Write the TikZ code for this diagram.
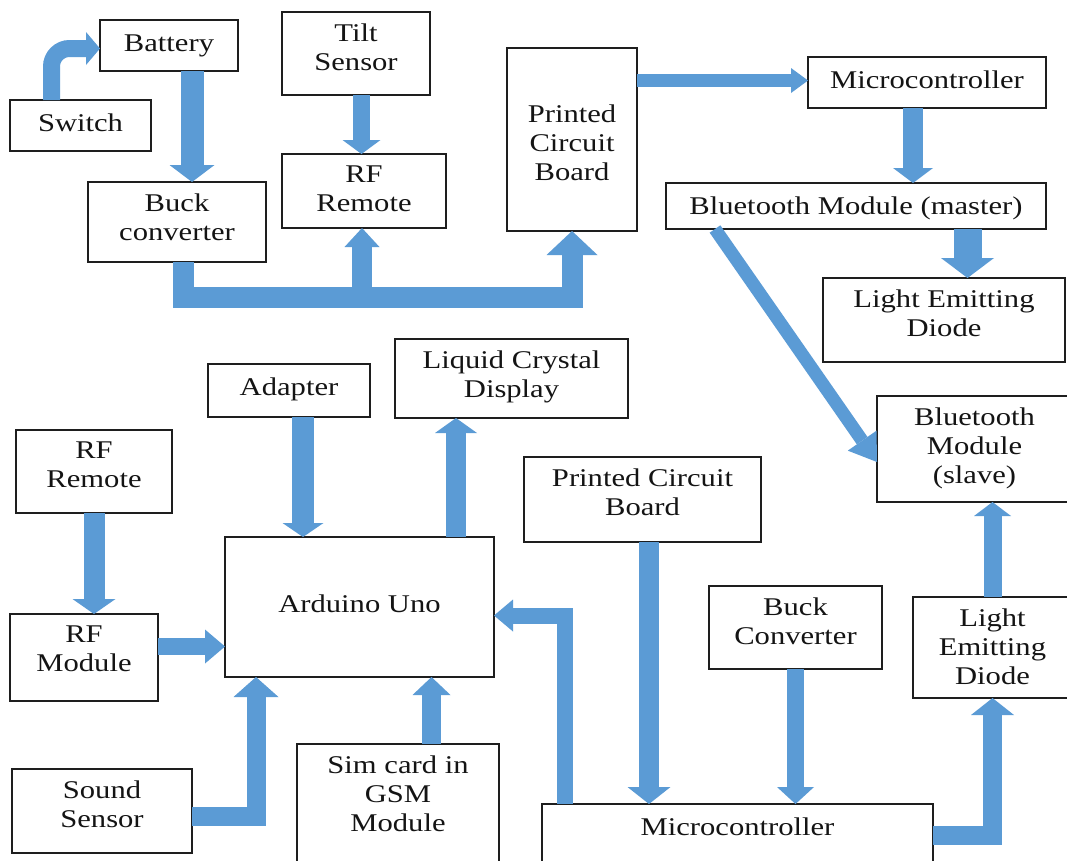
\documentclass[tikz,border=0pt]{standalone}
\usepackage{fontspec}
\setmainfont{Liberation Serif}[FakeStretch=1.2]
\usetikzlibrary{arrows.meta}
\definecolor{flowblue}{HTML}{5B9BD5}
\definecolor{edge}{HTML}{1E1E1E}

\tikzset{
  box/.style={draw=edge, line width=1.6pt, inner sep=0pt, outer sep=0pt},
  lbl/.style={align=center, inner sep=0pt, outer sep=0pt,
    font=\fontsize{25.5}{29}\selectfont, text=black!92,
    execute at begin node=\strut},
  flow/.style n args={3}{draw=flowblue, line width=#1pt,
    -{Triangle[width=#2pt, length=#3pt, line width=0pt]}},
}

% block with the text set at the top: name, x1, y1, x2, y2, text
\newcommand\blk[6]{%
  \node[box, minimum width={#4-#2}, minimum height={#5-#3}] (#1)
    at ({(#2+#4)/2},{(#3+#5)/2}) {};
  \node[lbl, anchor=north] (#1-t) at ([yshift=-11.5pt]#1.north) {#6};
}
% block with the text centred (last argument: vertical nudge)
\newcommand\blkc[7]{%
  \node[box, minimum width={#4-#2}, minimum height={#5-#3}] (#1)
    at ({(#2+#4)/2},{(#3+#5)/2}) {};
  \node[lbl] (#1-t) at ([yshift=#7]#1.center) {#6};
}

\begin{document}
\begin{tikzpicture}[x=1pt, y=-1pt]
\useasboundingbox (0,0) rectangle (1067,860);
\fill[white] (0,0) rectangle (1067,860);
\clip (0,0) rectangle (1067,860);

% ---- upper system: tilt remote and bluetooth master ----
\blk{switch}{10}{100}{151}{151}{Switch}
\blk{battery}{100}{20}{238}{71}{Battery}
\blk{buckA}{88}{182}{266}{262}{Buck\\converter}
\blk{tilt}{282}{12}{430}{95}{Tilt\\Sensor}
\blk{rfA}{282}{154}{446}{228}{RF\\Remote}
\blkc{pcbA}{507}{48}{637}{231}{Printed\\Circuit\\Board}{-7pt}
\blk{mcuA}{808}{57}{1046}{108}{Microcontroller}
\blk{btm}{666}{183}{1046}{229}{Bluetooth Module (master)}
\blk{ledA}{823}{278}{1065}{362}{Light Emitting\\Diode}

% ---- lower system: arduino unit and bluetooth slave ----
\blk{lcd}{395}{339}{628}{418}{Liquid Crystal\\Display}
\blk{adapter}{208}{364}{370}{417}{Adapter}
\blk{rfB}{16}{430}{172}{513}{RF\\Remote}
\blk{rfmod}{10}{614}{158}{701}{RF\\Module}
\blkc{arduino}{225}{537}{494}{677}{Arduino Uno}{0pt}
\blk{pcbB}{524}{457}{761}{542}{Printed Circuit\\Board}
\blk{bts}{877}{396}{1072}{502}{Bluetooth\\Module\\(slave)}
\blk{buckB}{709}{586}{882}{669}{Buck\\Converter}
\blk{ledB}{913}{597}{1072}{698}{Light\\Emitting\\Diode}
\blk{sound}{12}{769}{192}{853}{Sound\\Sensor}
\blk{sim}{297}{744}{499}{872}{Sim card in\\GSM\\Module}
\blk{mcuB}{542}{804}{933}{872}{Microcontroller}

% ---- connectors, upper system ----
\draw[flow={17}{33}{14}, rounded corners=18pt]
  ([xshift=-29pt]switch.north) |- ([yshift=-3pt]battery.west);
\coordinate (b1) at ([xshift=23pt]battery.south);
\draw[flow={23}{45}{17}] (b1) -- (b1 |- buckA.north);
\coordinate (bus) at ([xshift=6pt,yshift=-35.5pt]buckA.south);
\draw[flow={21}{51}{24}] ([xshift=6pt]buckA.south) -- (bus) -| (pcbA.south);
\coordinate (r1) at ([xshift=-2pt]rfA.south);
\draw[flow={20}{35}{19}] (r1 |- bus) -- (r1);
\coordinate (t1) at ([xshift=5.5pt]tilt.south);
\draw[flow={17}{38}{14}] (t1) -- (t1 |- rfA.north);
\coordinate (m1) at ([yshift=2pt]mcuA.west);
\draw[flow={13}{25}{17}] (m1 -| pcbA.east) -- (m1);
\coordinate (m2) at ([xshift=-14pt]mcuA.south);
\draw[flow={20}{40}{15}] (m2) -- (m2 |- btm.north);
\coordinate (l1) at ([xshift=23.5pt]ledA.north);
\draw[flow={28}{53}{20}] (l1 |- btm.south) -- (l1);
\draw[flow={13}{35}{26}] ([xshift=-141pt]btm.south) -- ([yshift=-13pt]bts.west);

% ---- connectors, lower system ----
\coordinate (a1) at ([xshift=14pt]adapter.south);
\draw[flow={22}{41}{14}] (a1) -- (a1 |- arduino.north);
\coordinate (a2) at ([xshift=-55.5pt]lcd.south);
\draw[flow={20}{42}{15}] (a2 |- arduino.north) -- (a2);
\draw[flow={21}{43}{15}] (rfB.south) -- (rfB.south |- rfmod.north);
\coordinate (a3) at ([yshift=11pt]rfmod.east);
\draw[flow={17}{34}{20}] (a3) -- (a3 -| arduino.west);
\coordinate (s1) at ([yshift=-5.5pt]sound.east);
\coordinate (s2) at ([xshift=-103.5pt]arduino.south);
\draw[flow={19}{45}{20}] (s1) -| (s2);
\coordinate (g1) at ([xshift=33.5pt]sim.north);
\draw[flow={19}{38}{18}] (g1) -- (g1 |- arduino.south);
\coordinate (c1) at ([xshift=-173pt]mcuB.north);
\coordinate (c2) at ([yshift=-8.5pt]arduino.east);
\draw[flow={16}{32}{19}] (c1) |- (c2);
\coordinate (p2) at ([xshift=6.5pt]pcbB.south);
\draw[flow={20}{43}{17}] (p2) -- (p2 |- mcuB.north);
\draw[flow={17}{37}{17}] (buckB.south) -- (buckB.south |- mcuB.north);
\draw[flow={18}{37}{14}] (ledB.north) -- (ledB.north |- bts.south);
\draw[flow={19}{43}{17}] ([yshift=3pt]mcuB.east) -| (ledB.south);
\end{tikzpicture}
\end{document}
